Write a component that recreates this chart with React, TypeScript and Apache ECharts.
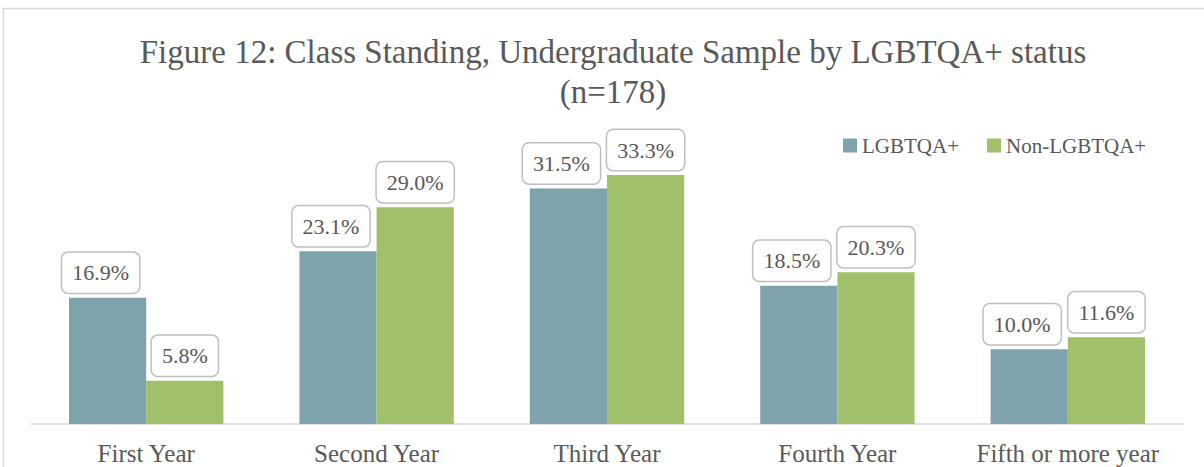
import React, { useEffect, useRef } from "react";
import * as echarts from "echarts";

const categories = ["First Year", "Second Year", "Third Year", "Fourth Year", "Fifth or more year"];
const lgbtqa = [16.9, 23.1, 31.5, 18.5, 10.0];
const nonLgbtqa = [5.8, 29.0, 33.3, 20.3, 11.6];
const seriesNames = ["LGBTQA+", "Non-LGBTQA+"];
const titleText = "Figure 12: Class Standing, Undergraduate Sample by LGBTQA+ status\n(n=178)";

const FONT = "'Liberation Serif', 'Times New Roman', serif";
const TEXT = "#595959";
const COLORS = ["#7FA3AD", "#A0C16A"];

export default function App() {
  const ref = useRef<HTMLDivElement>(null);
  useEffect(() => {
    if (!ref.current) return;
    const chart = echarts.init(ref.current, null, { renderer: "svg" });
    const labelStyle = {
      show: true,
      position: "top",
      distance: 5,
      formatter: (p: any) => p.value.toFixed(1) + "%",
      fontFamily: FONT,
      fontSize: 22,
      color: TEXT,
      backgroundColor: "#ffffff",
      borderColor: "#bfbfbf",
      borderWidth: 1.5,
      borderRadius: 6,
      padding: [9, 10],
    };
    chart.setOption({
      animation: false,
      backgroundColor: "#ffffff",
      title: {
        text: titleText,
        left: 608,
        top: 27,
        textAlign: "center",
        textStyle: {
          fontFamily: FONT,
          fontSize: 33,
          fontWeight: "normal",
          color: TEXT,
          lineHeight: 40,
        },
      },
      legend: {
        data: seriesNames,
        left: 838,
        top: 130,
        icon: "rect",
        itemWidth: 14,
        itemHeight: 14,
        itemGap: 28,
        textStyle: { fontFamily: FONT, fontSize: 21, color: TEXT },
      },
      graphic: [
        {
          type: "rect",
          shape: { x: 3.5, y: 8.5, width: 1208, height: 600 },
          style: { fill: "none", stroke: "#d9d9d9", lineWidth: 1.5 },
          silent: true,
          z: -10,
        },
      ],
      grid: { left: 31, right: 21, top: 125, bottom: 43 },
      xAxis: {
        type: "category",
        data: categories,
        axisLine: { lineStyle: { color: "#d9d9d9", width: 1.5 } },
        axisTick: { show: false },
        axisLabel: {
          interval: 0,
          hideOverlap: false,
          fontFamily: FONT,
          fontSize: 25,
          color: TEXT,
          margin: 17,
        },
      },
      yAxis: {
        type: "value",
        min: 0,
        max: 40,
        show: false,
        splitLine: { show: false },
      },
      series: [
        {
          name: seriesNames[0],
          type: "bar",
          data: lgbtqa,
          barGap: "0%",
          barCategoryGap: "33%",
          itemStyle: { color: COLORS[0] },
          label: labelStyle,
          labelLayout: () => ({ dx: -7 }),
        },
        {
          name: seriesNames[1],
          type: "bar",
          data: nonLgbtqa,
          barGap: "0%",
          barCategoryGap: "33%",
          itemStyle: { color: COLORS[1] },
          label: labelStyle,
        },
      ],
    });
    return () => chart.dispose();
  }, []);
  return (
    <div
      ref={ref}
      style={{ position: "absolute", left: 0, top: 0, width: 1204, height: 467 }}
    />
  );
}
